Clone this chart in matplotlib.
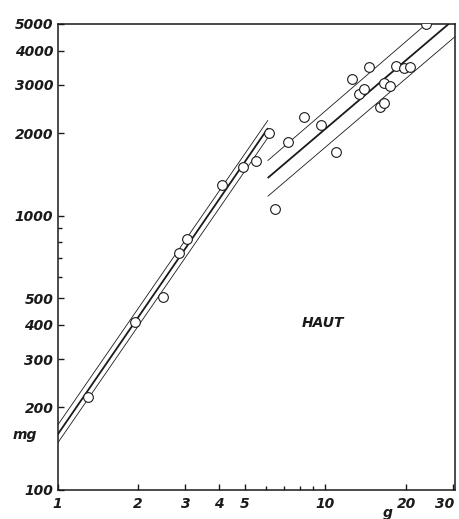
import matplotlib.pyplot as plt
import matplotlib.transforms as mtransforms
from matplotlib.ticker import FixedLocator, FixedFormatter, NullFormatter

# %% Data (body weight g vs. skin weight mg)
g_small = [1.30, 1.95, 2.48, 2.84, 3.04, 4.11, 4.92, 5.50, 6.15]
mg_small = [218, 410, 506, 733, 824, 1297, 1510, 1588, 2009]

g_large = [6.48, 7.25, 8.32, 9.62, 10.9, 12.55, 13.3, 13.9, 14.5,
           16.0, 16.5, 16.5, 17.4, 18.3, 19.6, 20.7, 23.7]
mg_large = [1061, 1862, 2297, 2148, 1712, 3162, 2788, 2907, 3497,
            2500, 2584, 3057, 2981, 3526, 3468, 3497, 4980]

# regression lines and their bounds (end points)
small_x = [1.0, 6.1]
small_mid = [159, 2085]
small_hi = [172, 2228]
small_lo = [148, 1928]

large_x = [6.085, 31.0]
large_mid = [1372, 5314]
large_hi = [1587, 6251]
large_lo = [1176, 4564]

xticks = [1, 2, 3, 4, 5, 10, 20, 30]
xminor = [6, 7, 8, 9]
yticks = [100, 200, 300, 400, 500, 1000, 2000, 3000, 4000, 5000]
yminor = [600, 700, 800, 900]

font = dict(family="DejaVu Sans", weight="bold", style="italic")
ink = "#1a1a1a"

# %% Plot
fig = plt.figure(figsize=(4.59, 5.19), dpi=100)
ax = fig.add_axes([0.1253, 0.0559, 0.8657, 0.8979])
ax.set_xscale("log")
ax.set_yscale("log")

for x, y, lw in [(small_x, small_mid, 1.3), (small_x, small_hi, 0.6), (small_x, small_lo, 0.6),
                 (large_x, large_mid, 1.3), (large_x, large_hi, 0.6), (large_x, large_lo, 0.6)]:
    ax.plot(x, y, color=ink, lw=lw, solid_capstyle="butt", zorder=2)

ax.plot(g_small, mg_small, "o", ms=7, mfc="white", mec=ink, mew=0.8, zorder=3)
ax.plot(g_large, mg_large, "o", ms=7, mfc="white", mec=ink, mew=0.8, zorder=3)

ax.set_xlim(1, 30.4)
ax.set_ylim(100, 5000)

ax.xaxis.set_major_locator(FixedLocator(xticks))
ax.xaxis.set_major_formatter(FixedFormatter([str(v) for v in xticks]))
ax.xaxis.set_minor_locator(FixedLocator(xminor))
ax.xaxis.set_minor_formatter(NullFormatter())
ax.yaxis.set_major_locator(FixedLocator(yticks))
ax.yaxis.set_major_formatter(FixedFormatter([str(v) for v in yticks]))
ax.yaxis.set_minor_locator(FixedLocator(yminor))
ax.yaxis.set_minor_formatter(NullFormatter())

ax.tick_params(which="major", direction="in", length=4, width=1, color=ink)
ax.tick_params(which="minor", direction="in", length=3, width=1, color=ink)
ax.tick_params(axis="y", pad=3)
ax.tick_params(axis="x", pad=5)
for lab in ax.get_xticklabels() + ax.get_yticklabels():
    lab.set_fontfamily(font["family"])
    lab.set_fontweight(font["weight"])
    lab.set_fontstyle(font["style"])
    lab.set_fontsize(10)
    lab.set_color(ink)

# keep the "30" label just inside the figure edge
last = ax.get_xticklabels()[-1]
last.set_transform(last.get_transform() + mtransforms.ScaledTranslation(-6 / 72, 0, fig.dpi_scale_trans))

for sp in ax.spines.values():
    sp.set_linewidth(1.1)
    sp.set_color(ink)

ax.text(9.8, 406, "HAUT", fontsize=10, ha="center", va="center", color=ink, **font)
fig.text(25 / 459, 1 - 435 / 519, "mg", fontsize=10, ha="center", va="center", color=ink, **font)
fig.text(388 / 459, 1 - 513 / 519, "g", fontsize=10, ha="center", va="center", color=ink, **font)

fig.savefig("out.png", dpi=100)
